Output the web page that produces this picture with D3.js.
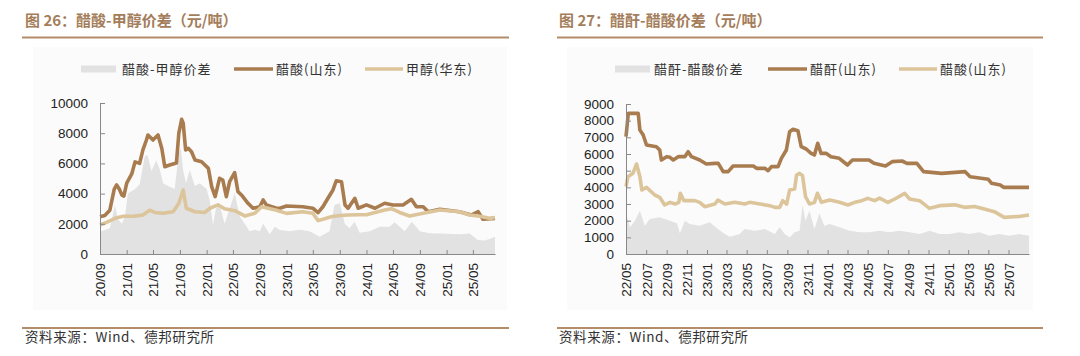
<!DOCTYPE html>
<html>
<head>
<meta charset="utf-8">
<script src="https://cdn.jsdelivr.net/npm/d3@7"></script>
<style>
  html, body { margin: 0; padding: 0; background: #fff; }
  svg { display: block; }
  text { font-family: "Liberation Sans", Arial, "Noto Sans CJK SC", sans-serif; }
  .cjk { font-family: "Noto Sans CJK SC", "Liberation Sans", sans-serif; }
</style>
</head>
<body>
<svg id="chart" width="1080" height="356"></svg>
<script>
// ---------------- Chart 26 : 醋酸-甲醇价差 ----------------
const c26Title = "图 26：醋酸-甲醇价差（元/吨）";
const c26Legend = ["醋酸-甲醇价差", "醋酸(山东)", "甲醇(华东)"];
const c26YTicks = [0, 2000, 4000, 6000, 8000, 10000];
const c26XTicks = ["2020-09-01","2021-01-01","2021-05-01","2021-09-01","2022-01-01","2022-05-01","2022-09-01","2023-01-01","2023-05-01","2023-09-01","2024-01-01","2024-05-01","2024-09-01","2025-01-01","2025-05-01"];
const c26Domain = ["2020-09-01", "2025-08-10"];

const c26AcidDates = ["2020-09-01","2020-09-23","2020-10-16","2020-11-05","2020-11-16","2020-11-28","2020-12-10","2020-12-19","2021-01-01","2021-01-24","2021-02-08","2021-03-01","2021-03-16","2021-04-01","2021-04-08","2021-05-01","2021-05-24","2021-06-10","2021-06-24","2021-07-16","2021-08-16","2021-08-27","2021-09-09","2021-09-16","2021-09-27","2021-10-09","2021-10-24","2021-11-09","2021-12-09","2022-01-09","2022-01-24","2022-02-09","2022-03-01","2022-03-16","2022-04-01","2022-04-16","2022-05-09","2022-05-24","2022-06-09","2022-07-09","2022-08-01","2022-09-01","2022-09-16","2022-10-01","2022-11-16","2022-12-01","2023-01-01","2023-03-16","2023-05-01","2023-05-25","2023-06-16","2023-07-09","2023-08-01","2023-08-16","2023-09-09","2023-09-25","2023-10-09","2023-11-09","2023-11-24","2024-01-01","2024-02-09","2024-03-24","2024-05-01","2024-06-16","2024-07-24","2024-08-16","2024-09-16","2024-10-09","2024-12-01","2025-03-01","2025-04-24","2025-05-25","2025-06-16","2025-08-10"];
const c26Acid = [2470,2550,2900,4300,4570,4300,3900,3840,4700,5300,6100,6000,6900,7550,7880,7550,7880,7000,5780,5890,6020,8000,8920,8670,6890,7000,6770,6220,6110,5670,4460,3800,5010,4900,3800,4790,5390,4130,3910,3360,3030,3130,3580,3250,3030,3030,3180,3130,3030,2740,3130,3690,4240,4850,4790,3250,3030,3690,3030,3250,3030,3360,3250,3250,3620,3130,3130,2800,2960,2800,2580,2800,2300,2360];

const c26MethDates = ["2020-09-01","2020-10-01","2020-11-09","2020-12-16","2021-02-01","2021-03-16","2021-04-16","2021-05-09","2021-06-16","2021-08-01","2021-08-27","2021-09-16","2021-09-30","2021-11-09","2021-12-24","2022-01-16","2022-02-22","2022-03-24","2022-05-09","2022-06-24","2022-08-09","2022-09-09","2022-11-16","2023-01-01","2023-03-16","2023-05-01","2023-05-25","2023-06-16","2023-07-24","2023-09-01","2023-10-09","2023-11-24","2024-01-01","2024-02-09","2024-03-24","2024-04-24","2024-06-01","2024-07-16","2024-09-16","2024-12-01","2025-03-01","2025-04-16","2025-06-01","2025-07-16","2025-08-10"];
const c26Meth = [1920,2100,2360,2500,2500,2580,2900,2750,2700,2800,3360,4240,3030,2800,2750,3030,3250,3000,2870,2520,2700,3130,2900,2690,2800,2700,2210,2300,2470,2550,2580,2600,2600,2750,2910,3000,2750,2520,2700,2910,2800,2580,2500,2360,2420];

const c26SpreadDates = ["2020-09-01","2020-10-16","2020-11-08","2020-11-22","2020-12-10","2020-12-24","2021-01-06","2021-02-08","2021-03-01","2021-03-24","2021-04-06","2021-04-24","2021-05-16","2021-06-01","2021-06-16","2021-07-16","2021-08-08","2021-08-27","2021-09-05","2021-09-16","2021-09-29","2021-10-16","2021-11-08","2021-12-01","2022-01-01","2022-01-16","2022-01-30","2022-02-12","2022-03-01","2022-03-24","2022-04-16","2022-05-09","2022-06-01","2022-06-24","2022-07-16","2022-08-09","2022-09-01","2022-09-16","2022-10-16","2022-11-08","2022-12-01","2023-01-16","2023-03-01","2023-04-16","2023-06-01","2023-07-16","2023-08-08","2023-09-01","2023-09-24","2023-10-16","2023-11-08","2023-12-01","2024-01-16","2024-03-01","2024-04-16","2024-05-08","2024-06-24","2024-07-26","2024-09-01","2024-10-16","2024-12-01","2025-03-01","2025-04-16","2025-05-24","2025-06-24","2025-07-16","2025-08-10"];
const c26Spread = [1480,1700,3250,2300,2000,2500,4000,4300,4600,6440,6550,5500,6200,5600,4680,4460,4300,6670,7000,5500,4680,5560,4500,4680,4300,3500,1920,3000,3300,2000,3000,4020,2500,2000,1500,1600,1500,2000,1300,1800,1590,1500,1600,1500,1150,1500,3250,3360,2000,1700,2140,1400,1500,1800,1800,2100,1500,2140,1500,1370,1350,1300,1350,930,900,1000,1150];

// ---------------- Chart 27 : 醋酐-醋酸价差 ----------------
const c27Title = "图 27：醋酐-醋酸价差（元/吨）";
const c27Legend = ["醋酐-醋酸价差", "醋酐(山东)", "醋酸(山东)"];
const c27YTicks = [0, 1000, 2000, 3000, 4000, 5000, 6000, 7000, 8000, 9000];
const c27XTicks = ["2022-05-01","2022-07-01","2022-09-01","2022-11-01","2023-01-01","2023-03-01","2023-05-01","2023-07-01","2023-09-01","2023-11-01","2024-01-01","2024-03-01","2024-05-01","2024-07-01","2024-09-01","2024-11-01","2025-01-01","2025-03-01","2025-05-01","2025-07-01"];
const c27Domain = ["2022-05-01", "2025-09-01"];

const c27AnhDates = ["2022-05-01","2022-05-08","2022-06-07","2022-06-12","2022-06-22","2022-07-02","2022-08-01","2022-08-11","2022-08-16","2022-09-01","2022-09-11","2022-09-21","2022-10-06","2022-10-26","2022-11-05","2022-11-15","2022-12-10","2022-12-30","2023-01-25","2023-02-04","2023-02-19","2023-03-06","2023-03-21","2023-05-21","2023-05-31","2023-06-25","2023-07-05","2023-07-15","2023-08-04","2023-08-14","2023-08-29","2023-09-08","2023-09-18","2023-10-03","2023-10-13","2023-10-28","2023-11-12","2023-11-22","2023-12-02","2023-12-12","2023-12-27","2024-01-11","2024-02-05","2024-03-01","2024-03-16","2024-05-05","2024-05-20","2024-06-24","2024-07-14","2024-08-13","2024-08-28","2024-09-27","2024-10-17","2024-12-11","2025-02-20","2025-03-07","2025-05-01","2025-05-11","2025-06-06","2025-06-16","2025-09-01"];
const c27Anh = [7040,8440,8440,7440,7140,6540,6440,6240,5640,5840,5800,5640,5840,5840,6140,5840,5640,5400,5440,5440,4940,4940,5280,5280,5140,5140,5000,5240,5240,5740,6240,7340,7480,7400,6440,6300,6040,5940,6640,6040,6040,5840,5740,5340,5640,5640,5440,5280,5540,5580,5440,5440,4940,4840,4940,4640,4480,4240,4140,4000,4000];

const c27AcidDates = ["2022-05-01","2022-05-07","2022-05-22","2022-06-02","2022-06-12","2022-06-18","2022-07-02","2022-07-27","2022-08-11","2022-08-26","2022-09-11","2022-09-26","2022-10-08","2022-10-12","2022-10-23","2022-11-25","2022-12-10","2022-12-25","2023-01-25","2023-02-03","2023-02-24","2023-03-26","2023-04-25","2023-05-10","2023-06-10","2023-07-10","2023-07-25","2023-08-09","2023-08-18","2023-08-30","2023-09-08","2023-09-23","2023-09-29","2023-10-08","2023-10-17","2023-10-26","2023-11-07","2023-11-22","2023-12-01","2023-12-13","2024-01-07","2024-02-06","2024-03-02","2024-03-23","2024-04-13","2024-05-01","2024-05-22","2024-06-06","2024-07-01","2024-07-22","2024-08-21","2024-09-05","2024-10-05","2024-11-04","2024-12-05","2025-01-19","2025-02-18","2025-03-20","2025-04-19","2025-05-19","2025-06-18","2025-08-02","2025-09-01"];
const c27Acid = [4040,4640,4840,5400,4640,3840,4000,3540,3400,2940,3100,3000,3100,3640,3200,3200,3100,2840,3000,3240,3000,3100,3000,3100,3000,2900,2800,2800,3200,3000,3840,3900,4740,4840,4700,3440,3000,3100,3640,3100,3240,3100,2940,3100,3200,3340,3200,3350,3100,3300,3640,3300,3200,2740,2900,2950,2800,2850,2700,2540,2200,2250,2340];

const c27SpreadDates = ["2022-05-01","2022-05-13","2022-05-28","2022-06-12","2022-06-27","2022-07-12","2022-08-11","2022-09-11","2022-10-02","2022-10-11","2022-10-26","2022-11-10","2022-12-10","2023-01-09","2023-02-03","2023-02-24","2023-03-11","2023-04-10","2023-04-25","2023-05-25","2023-06-25","2023-07-25","2023-08-09","2023-08-24","2023-09-08","2023-09-23","2023-10-08","2023-10-17","2023-10-26","2023-11-07","2023-11-22","2023-12-07","2023-12-22","2024-01-07","2024-02-06","2024-03-07","2024-04-06","2024-05-06","2024-06-06","2024-07-06","2024-08-05","2024-09-05","2024-10-05","2024-11-04","2024-12-05","2025-01-04","2025-02-03","2025-03-05","2025-04-04","2025-05-04","2025-06-03","2025-07-03","2025-08-02","2025-09-01"];
const c27Spread = [2440,1600,2000,2600,1700,2100,2200,2000,1840,1240,2000,1800,1700,1900,1500,1200,1040,1200,1500,1400,1500,1200,1600,1200,1000,1300,1400,2940,2000,2600,1500,2440,1700,1800,1600,1400,1300,1300,1400,1300,1400,1300,1200,1400,1200,1200,1300,1200,1300,1100,1200,1100,1200,1100];

const sourceText = "资料来源：Wind、德邦研究所";

// ---------------- drawing ----------------
const COL_AREA = "#e2e2e2", COL_DARK = "#a97c50", COL_LIGHT = "#dcc59a";
const COL_TITLE = "#a47d5a", COL_RULE = "#b38c6a";
const parse = d3.timeParse("%Y-%m-%d");
const svg = d3.select("#chart");

function zip(dates, vals) { return dates.map((d, i) => ({ date: parse(d), v: vals[i] })); }

function drawChart(o) {
  const g = svg.append("g");
  // faint panel background
  g.append("rect").attr("x", o.panelX).attr("y", 47).attr("width", o.panelW).attr("height", 263).attr("fill", "#fbfbfb");
  // title + rules
  g.append("text").attr("class", "cjk").attr("x", o.titleX).attr("y", 26)
    .attr("font-size", 15).attr("font-weight", "bold").attr("fill", COL_TITLE).text(o.title);
  g.append("line").attr("x1", o.ruleX1).attr("x2", o.ruleX2).attr("y1", 37.5).attr("y2", 37.5)
    .attr("stroke", COL_RULE).attr("stroke-width", 2);
  g.append("line").attr("x1", o.ruleX1).attr("x2", o.ruleX2).attr("y1", 328).attr("y2", 328)
    .attr("stroke", COL_RULE).attr("stroke-width", 2);
  g.append("text").attr("class", "cjk").attr("x", o.titleX).attr("y", 341.5)
    .attr("font-size", 13.5).attr("letter-spacing", 0.6).attr("fill", "#333").text(sourceText);

  const x = d3.scaleTime().domain(o.domain.map(parse)).range([o.x0, o.x1]);
  const y = d3.scaleLinear().domain([0, o.yMax]).range([254, o.yTop]);

  const spread = zip(o.spreadDates, o.spread);
  const dark = zip(o.darkDates, o.dark);
  const light = zip(o.lightDates, o.light);

  g.append("path").datum(spread).attr("fill", COL_AREA)
    .attr("d", d3.area().x(d => x(d.date)).y0(y(0)).y1(d => y(d.v)));
  const line = d3.line().x(d => x(d.date)).y(d => y(d.v));
  g.append("path").datum(dark).attr("fill", "none").attr("stroke", COL_DARK)
    .attr("stroke-width", 3.6).attr("stroke-linejoin", "round").attr("d", line);
  g.append("path").datum(light).attr("fill", "none").attr("stroke", COL_LIGHT)
    .attr("stroke-width", 3.6).attr("stroke-linejoin", "round").attr("d", line);

  // axes
  const yAxis = d3.axisLeft(y).tickValues(o.yTicks).tickFormat(d3.format("d"))
    .tickSizeInner(-5).tickSizeOuter(0).tickPadding(12);
  const ya = g.append("g").attr("transform", `translate(${o.x0},0)`).call(yAxis);
  ya.select(".domain").attr("stroke", "#888");
  ya.selectAll(".tick line").attr("stroke", "#888");
  ya.selectAll("text").attr("font-size", 13.5).attr("fill", "#222")
    .attr("font-family", "'Liberation Sans', Arial, sans-serif");

  const xAxis = d3.axisBottom(x).tickValues(o.xTicks.map(parse))
    .tickFormat(d3.timeFormat("%y/%m")).tickSizeInner(-4).tickSizeOuter(0);
  const xa = g.append("g").attr("transform", "translate(0,254)").call(xAxis);
  xa.select(".domain").attr("stroke", "#888");
  xa.selectAll(".tick line").attr("stroke", "#888");
  xa.selectAll("text").attr("font-size", 13.5).attr("fill", "#222")
    .attr("font-family", "'Liberation Sans', Arial, sans-serif")
    .attr("transform", "rotate(-90)").attr("text-anchor", "end")
    .attr("x", -9).attr("y", 0).attr("dy", "0.36em");

  // legend
  const L = o.legend;
  g.append("rect").attr("x", L[0]).attr("y", 65.5).attr("width", 35).attr("height", 7).attr("fill", COL_AREA);
  g.append("line").attr("x1", L[2]).attr("x2", L[2] + 39).attr("y1", 69).attr("y2", 69)
    .attr("stroke", COL_DARK).attr("stroke-width", 3.5);
  g.append("line").attr("x1", L[4]).attr("x2", L[4] + 38).attr("y1", 69).attr("y2", 69)
    .attr("stroke", COL_LIGHT).attr("stroke-width", 3.5);
  [L[1], L[3], L[5]].forEach((lx, i) => {
    g.append("text").attr("class", "cjk").attr("x", lx).attr("y", 73.5)
      .attr("font-size", 13).attr("letter-spacing", 1).attr("fill", "#333").text(o.legendLabels[i]);
  });
}

drawChart({
  title: c26Title, titleX: 25, ruleX1: 22, ruleX2: 509, panelX: 33, panelW: 474,
  domain: c26Domain, x0: 100, x1: 495, yMax: 10000, yTop: 103,
  yTicks: c26YTicks, xTicks: c26XTicks,
  spreadDates: c26SpreadDates, spread: c26Spread,
  darkDates: c26AcidDates, dark: c26Acid,
  lightDates: c26MethDates, light: c26Meth,
  legend: [81, 122, 234, 276, 365, 406], legendLabels: c26Legend
});
drawChart({
  title: c27Title, titleX: 559, ruleX1: 557, ruleX2: 1043, panelX: 567, panelW: 466,
  domain: c27Domain, x0: 626, x1: 1029, yMax: 9000, yTop: 104,
  yTicks: c27YTicks, xTicks: c27XTicks,
  spreadDates: c27SpreadDates, spread: c27Spread,
  darkDates: c27AnhDates, dark: c27Anh,
  lightDates: c27AcidDates, light: c27Acid,
  legend: [615, 654, 768, 810, 899, 940], legendLabels: c27Legend
});
</script>
</body>
</html>
